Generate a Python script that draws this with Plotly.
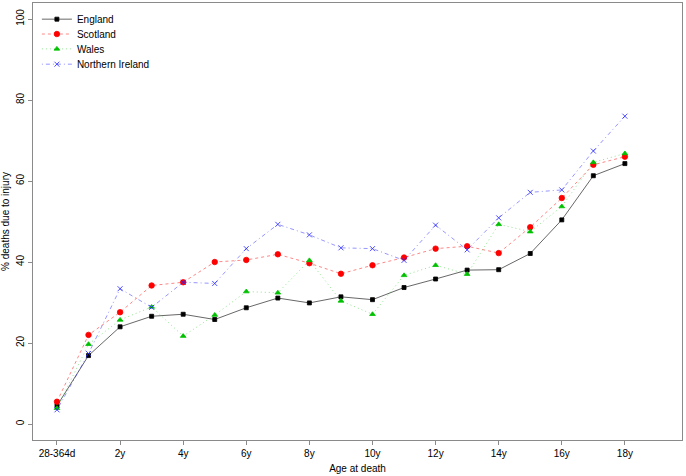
import plotly.graph_objects as go

# Age groups (x categories)
ages = ['28-364d', '1y', '2y', '3y', '4y', '5y', '6y', '7y', '8y', '9y',
        '10y', '11y', '12y', '13y', '14y', '15y', '16y', '17y', '18y']
tick_labels = ['28-364d', '2y', '4y', '6y', '8y', '10y', '12y', '14y', '16y', '18y']

# % deaths due to injury
england = [4.5, 16.9, 24.0, 26.6, 27.1, 25.8, 28.7, 31.1, 29.9, 31.4,
           30.7, 33.7, 35.8, 38.0, 38.1, 42.1, 50.4, 61.3, 64.3]
scotland = [5.5, 22.0, 27.6, 34.2, 35.0, 40.0, 40.5, 41.9, 39.7, 37.1,
            39.2, 41.1, 43.3, 43.9, 42.2, 48.6, 55.8, 64.0, 66.0]
wales = [3.9, 19.7, 25.7, 28.9, 21.7, 26.9, 32.7, 32.4, 40.4, 30.4,
         27.1, 36.7, 39.2, 37.0, 49.3, 47.5, 53.7, 64.6, 66.8]
northern_ireland = [3.5, 17.4, 33.4, 28.8, 35.0, 34.7, 43.3, 49.3, 46.7, 43.5,
                    43.3, 40.4, 49.1, 43.0, 50.9, 57.2, 57.8, 67.4, 76.0]

font_family = "Liberation Sans, Arial, sans-serif"
frame_color = '#8a8a8a'

# name, values, marker colour, line colour, dash, marker symbol, marker size, legend id
series = [
    ("England", england, 'black', 'rgba(0,0,0,0.75)', 'solid', 'square', 4, 'legend'),
    ("Scotland", scotland, '#ff0000', 'rgba(255,0,0,0.6)', '3px,3px',
     'circle', 5.5, 'legend2'),
    ("Wales", wales, '#00c000', 'rgba(0,192,0,0.55)', '1px,3px',
     'triangle-up', 5, 'legend3'),
    ("Northern Ireland", northern_ireland, '#2222ff', 'rgba(34,34,255,0.6)',
     '1px,3px,4px,3px', 'x-thin-open', 5, 'legend4'),
]

fig = go.Figure()

for name, values, color, line_color, dash, symbol, size, legend_id in series:
    fig.add_trace(go.Scatter(
        x=ages,
        y=values,
        mode='lines+markers',
        name=name,
        legend=legend_id,
        line=dict(color=line_color, width=0.8, dash=dash),
        marker=dict(symbol=symbol, size=size, color=color,
                    line=dict(color=color, width=0.8)),
    ))

# one legend per series so the rows sit as tightly as in the reference
legend_style = dict(
    x=0.006, xanchor='left', yanchor='middle',
    bgcolor='rgba(0,0,0,0)',
    font=dict(size=10),
    itemwidth=30,
)
legend_rows = [0.963, 0.929, 0.895, 0.860]

fig.update_layout(
    width=686,
    height=476,
    margin=dict(l=33, r=4, t=3, b=36),
    paper_bgcolor='white',
    plot_bgcolor='white',
    font=dict(family=font_family, size=10, color='black'),
    showlegend=True,
    legend=dict(y=legend_rows[0], **legend_style),
    legend2=dict(y=legend_rows[1], **legend_style),
    legend3=dict(y=legend_rows[2], **legend_style),
    legend4=dict(y=legend_rows[3], **legend_style),
)

fig.update_xaxes(
    type='category',
    categoryorder='array',
    categoryarray=ages,
    range=[-0.76, 19.81],
    tickmode='array',
    tickvals=tick_labels,
    ticktext=tick_labels,
    ticks='outside',
    ticklen=4,
    tickcolor=frame_color,
    showgrid=False,
    zeroline=False,
    showline=True,
    linecolor=frame_color,
    linewidth=1,
    mirror=True,
    automargin=False,
    title=dict(text='Age at death', font=dict(size=10), standoff=6),
)

fig.update_yaxes(
    range=[-3.95, 103.95],
    tickmode='array',
    tickvals=[0, 20, 40, 60, 80, 100],
    tickangle=-90,
    ticks='outside',
    ticklen=4,
    tickcolor=frame_color,
    showgrid=False,
    zeroline=False,
    showline=True,
    linecolor=frame_color,
    linewidth=1,
    mirror=True,
    automargin=False,
    title=dict(text='% deaths due to injury', font=dict(size=10), standoff=6),
)

# drop the browser's default body margin so the figure sits at the page corner
fig.write_html("out.html", config={'displayModeBar': False},
               post_script="document.body.style.margin='0';")
